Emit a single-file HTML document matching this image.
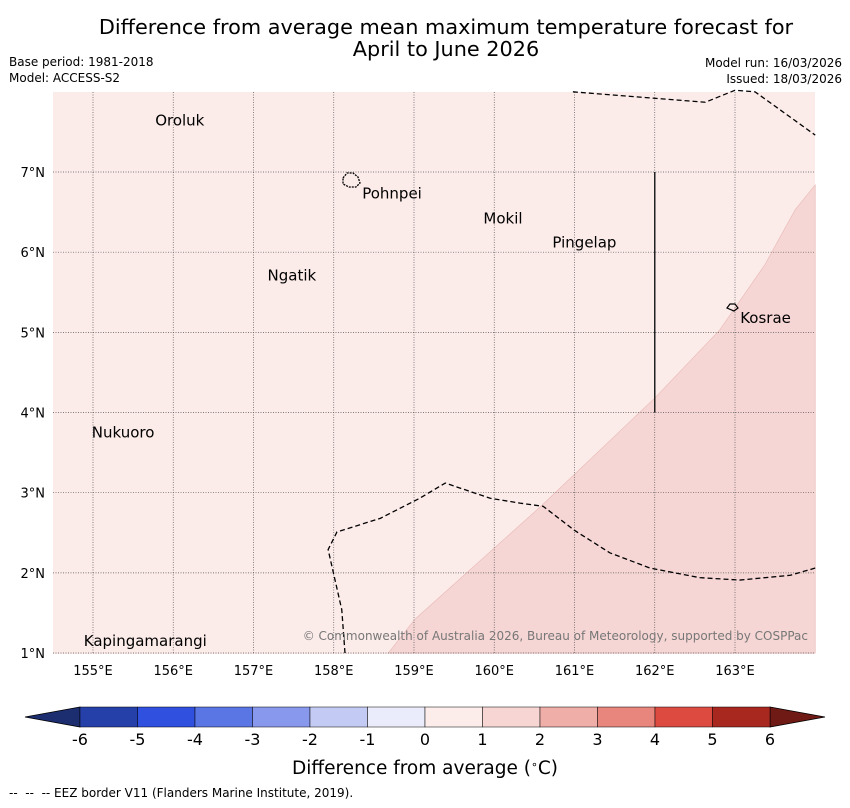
<!DOCTYPE html>
<html><head><meta charset="utf-8"><style>
body{margin:0;background:#fff;width:850px;height:804px;overflow:hidden;font-family:"DejaVu Sans","Liberation Sans",sans-serif}
</style></head><body>
<svg id="c" width="850" height="804" xmlns="http://www.w3.org/2000/svg">
<text x="446" y="34" font-size="20.8" text-anchor="middle">Difference from average mean maximum temperature forecast for</text>
<text x="446" y="56" font-size="20.8" text-anchor="middle">April to June 2026</text>
<text x="9" y="66" font-size="12">Base period: 1981-2018</text>
<text x="9" y="82" font-size="12">Model: ACCESS-S2</text>
<text x="842" y="67" font-size="12" text-anchor="end">Model run: 16/03/2026</text>
<text x="842" y="83" font-size="12" text-anchor="end">Issued: 18/03/2026</text>
<g id="map"></g>
<g id="cbar"></g>
<text x="425" y="774" font-size="18.5" text-anchor="middle">Difference from average (<tspan baseline-shift="super" font-size="11">∘</tspan>C)</text>
<text x="9" y="797" font-size="12" xml:space="preserve">--  --  -- EEZ border V11 (Flanders Marine Institute, 2019).</text>
</svg>
<script>
const lonTicks=[155,156,157,158,159,160,161,162,163];
const latTicks=[1,2,3,4,5,6,7];
const shadeLon=[158.68,159.01,160.57,162.0,162.81,163.37,163.75,164.0,164.0];
const shadeLat=[1.0,1.42,2.82,4.18,5.03,5.84,6.53,6.84,1.0];
const eezALon=[160.98,162.63,163.0,163.25,164];
const eezALat=[8.0,7.87,8.02,8.0,7.46];
const eezBLon=[158.14,158.1,157.93,158.04,158.58,159.07,159.39,159.95,160.32,160.61,161.0,161.44,161.94,162.56,163.06,163.69,164];
const eezBLat=[1.0,1.54,2.29,2.51,2.68,2.93,3.12,2.93,2.87,2.83,2.53,2.25,2.06,1.94,1.91,1.97,2.06];
const towns=["Oroluk","Pohnpei","Mokil","Pingelap","Ngatik","Kosrae","Nukuoro","Kapingamarangi"];
const townLon=[155.75,158.33,159.84,160.7,157.15,163.04,154.96,154.86];
const townLat=[7.74,6.83,6.52,6.22,5.81,5.28,3.85,1.25];
const cbLevels=[-6,-5,-4,-3,-2,-1,0,1,2,3,4,5,6];
const cbColors=["#2540a8","#3050e0","#5a75e4","#8898ec","#c3caf3","#eaecfb","#fcecea","#f6d5d3","#f0aea8","#e8857d","#dc4a40","#a82820"];
const NS="http://www.w3.org/2000/svg";
const X=l=>93+(l-155)*80.25, Y=a=>172+(7-a)*80.17;
const L=53,R=815,T=92,B=654;
function mk(p,t,a){const e=document.createElementNS(NS,t);for(const k in a)e.setAttribute(k,a[k]);p.appendChild(e);return e;}
const m=document.getElementById('map');
let e=mk(m,'rect',{x:L,y:T,width:R-L,height:B-T,fill:'#fbebe9'});

e=mk(m,'polygon',{points:shadeLon.map((v,i)=>X(v)+','+Y(shadeLat[i])).join(' '),fill:'#f5d6d4',stroke:'#e8b8b5','stroke-width':0.6});

lonTicks.forEach(v=>{const x=X(v);
 e=mk(m,'line',{x1:x,x2:x,y1:T,y2:B,stroke:'#555','stroke-width':0.7,'stroke-dasharray':'1,1.5'});
 
 e=mk(m,'text',{x:x,y:675,'font-size':13,'text-anchor':'middle'});e.textContent=v+'°E';
 });
latTicks.forEach(v=>{const y=Y(v);
 e=mk(m,'line',{x1:L,x2:R,y1:y,y2:y,stroke:'#555','stroke-width':0.7,'stroke-dasharray':'1,1.5'});
 
 e=mk(m,'text',{x:45,y:y+5,'font-size':13,'text-anchor':'end'});e.textContent=v+'°N';
 });
[[eezALon,eezALat],[eezBLon,eezBLat]].forEach(([lo,la])=>{
 e=mk(m,'polyline',{points:lo.map((v,i)=>X(v)+','+Y(la[i])).join(' '),fill:'none',stroke:'#000','stroke-width':1.3,'stroke-dasharray':'5,3'});
 });
e=mk(m,'line',{x1:X(162),x2:X(162),y1:Y(7),y2:Y(4),stroke:'#222','stroke-width':1.5});

e=mk(m,'path',{d:'M343,178 l4,-5 l6,0 l5,4 l2,6 l-4,4 l-7,0 l-6,-3z',fill:'none',stroke:'#000','stroke-width':1.3,'stroke-dasharray':'2,1'});

e=mk(m,'path',{d:'M727,308 l3,-4 l5,0 l3,4 l-4,3z',fill:'none',stroke:'#000','stroke-width':1.2});

towns.forEach((n,i)=>{const x=X(townLon[i]),y=Y(townLat[i]);
 e=mk(m,'text',{x:x+2,y:y+13,'font-size':15});e.textContent=n;
 });
e=mk(m,'text',{x:808,y:640,'font-size':12,'text-anchor':'end',fill:'#777'});e.textContent='© Commonwealth of Australia 2026, Bureau of Meteorology, supported by COSPPac';

const c=document.getElementById('cbar');
const CX=v=>425+v*57.5, cy=707, ch=20;
e=mk(c,'polygon',{points:`${CX(-6)},${cy} 25,${cy+ch/2} ${CX(-6)},${cy+ch}`,fill:'#1c2e70',stroke:'#000','stroke-width':0.8});

e=mk(c,'polygon',{points:`${CX(6)},${cy} 825,${cy+ch/2} ${CX(6)},${cy+ch}`,fill:'#701a15',stroke:'#000','stroke-width':0.8});

cbColors.forEach((col,i)=>{
 e=mk(c,'rect',{x:CX(cbLevels[i]),y:cy,width:CX(cbLevels[i+1])-CX(cbLevels[i]),height:ch,fill:col,stroke:'#000','stroke-width':0.5});
 });
cbLevels.forEach(v=>{
 e=mk(c,'text',{x:CX(v),y:745,'font-size':16,'text-anchor':'middle'});e.textContent=v;
 });
</script>
</body></html>
